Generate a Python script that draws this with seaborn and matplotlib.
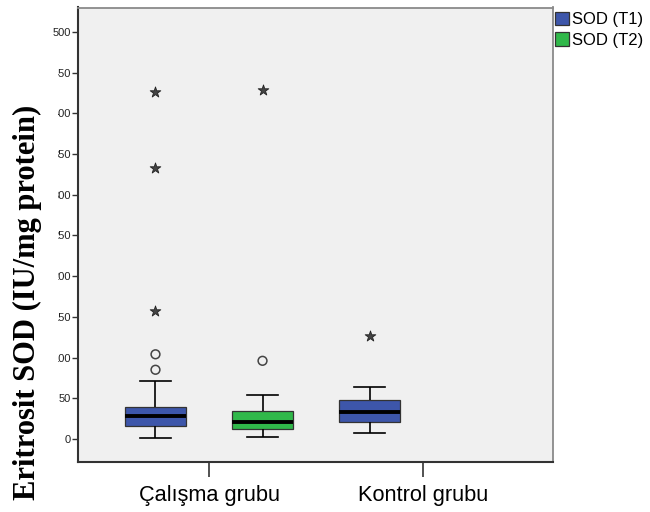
import numpy as np
import pandas as pd
import seaborn as sns
import matplotlib
matplotlib.use("Agg")
import matplotlib.pyplot as plt
from matplotlib.patches import Rectangle

# box summaries: lower whisker, Q1, median, Q3, upper whisker
groups = ["Çalışma grubu", "Kontrol grubu"]
series = ["SOD (T1)", "SOD (T2)"]
calisma_t1 = [1.6, 16, 28.6, 39, 71]
calisma_t2 = [2.5, 12.7, 20.5, 34.8, 54]
kontrol_t1 = [7, 21, 33.6, 48, 64]

# outliers (circles = mild, stars = extreme)
calisma_t1_circles = [85, 104]
calisma_t1_stars = [157, 333, 426]
calisma_t2_circles = [96]
calisma_t2_stars = [429]
kontrol_t1_stars = [126.5]

yticks = [0, 50, 100, 150, 200, 250, 300, 350, 400, 450, 500]
colors = {"SOD (T1)": "#3d56aa", "SOD (T2)": "#30b84a"}

rows = []
for g, s, vals in [(groups[0], series[0], calisma_t1),
                   (groups[0], series[1], calisma_t2),
                   (groups[1], series[0], kontrol_t1)]:
    for v in vals:
        rows.append({"grup": g, "seri": s, "deger": v})
df = pd.DataFrame(rows)

box_width = 1.0
flier_rows = []
for gi, si, vals, kind in [(0, 0, calisma_t1_circles, "o"), (0, 0, calisma_t1_stars, "*"),
                           (0, 1, calisma_t2_circles, "o"), (0, 1, calisma_t2_stars, "*"),
                           (1, 0, kontrol_t1_stars, "*")]:
    for v in vals:
        # same dodge as the boxes: hue slots of width box_width / 2
        flier_rows.append({"pos": gi + (si - 0.5) * box_width / 2, "deger": v, "kind": kind})
fliers = pd.DataFrame(flier_rows)

fig = plt.figure(figsize=(6.5, 5.12), dpi=100)
ax = fig.add_axes([78 / 650, 50 / 512, 475 / 650, 454.5 / 512])
ax.set_facecolor("#f0f0f0")

sns.boxplot(
    data=df, x="grup", y="deger", hue="seri", order=groups, hue_order=series,
    palette=colors, saturation=1, width=box_width, gap=0.43, whis=(0, 100),
    showfliers=False, linecolor="#333333", linewidth=0.9, ax=ax,
    medianprops={"color": "black", "linewidth": 2.8},
    whiskerprops={"color": "black", "linewidth": 1.2},
    capprops={"color": "black", "linewidth": 1.2},
)

circ = fliers[fliers["kind"] == "o"]
star = fliers[fliers["kind"] == "*"]
sns.scatterplot(data=circ, x="pos", y="deger", marker="o", s=40,
                facecolor="none", edgecolor="#444444", linewidth=1.1,
                legend=False, ax=ax, zorder=4)
sns.scatterplot(data=star, x="pos", y="deger", marker="*", s=65,
                color="#444444", edgecolor="#222222", linewidth=0.6,
                legend=False, ax=ax, zorder=4)

ax.set_xlim(-0.612, 1.607)
ax.set_ylim(-28.3, 530)
ax.set_yticks(yticks)
ax.set_xticks([0, 1])
ax.set_xticklabels(groups, fontfamily="Liberation Sans", fontsize=15.7)
for lab in ax.get_yticklabels():
    lab.set_fontfamily("Liberation Sans")
ax.tick_params(axis="y", length=4.3, width=1, color="#333333", labelsize=8, pad=0.8,
               labelcolor="#222222")
ax.tick_params(axis="x", length=10.8, width=1.2, color="#333333", pad=6)
ax.set_xlabel("")
ax.set_ylabel("")

for side in ["left", "bottom"]:
    ax.spines[side].set_color("#333333")
    ax.spines[side].set_linewidth(1.5)
for side in ["top", "right"]:
    ax.spines[side].set_color("#8a8a8a")
    ax.spines[side].set_linewidth(1.3)

sns.move_legend(ax, "upper left", bbox_to_anchor=(1.004, 0.99), frameon=False,
                title=None, prop={"family": "Liberation Sans", "size": 12},
                handlelength=0.85, handleheight=0.85, handletextpad=0.15,
                labelspacing=0.3, borderpad=0, borderaxespad=0)

# white box over the label area, as in the original
fig.add_artist(Rectangle((0, (512 - 505) / 512), 57.5 / 650, 455 / 512,
                         transform=fig.transFigure, facecolor="white",
                         edgecolor="none", zorder=5))
fig.text(27 / 650, (512 - 302) / 512, "Eritrosit SOD (IU/mg protein)",
         rotation=90, ha="center", va="center", fontsize=22,
         fontweight="bold", fontfamily="Liberation Serif", zorder=6)

fig.savefig("out.png", dpi=100)
